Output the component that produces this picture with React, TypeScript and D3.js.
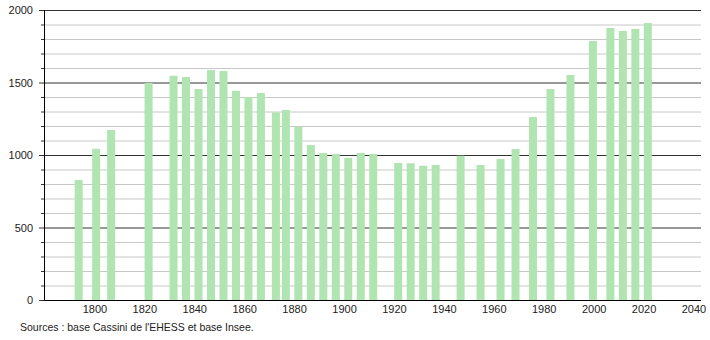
import React from "react";
import * as d3 from "d3";

const years = [1793, 1800, 1806, 1821, 1831, 1836, 1841, 1846, 1851, 1856, 1861, 1866, 1872, 1876, 1881, 1886, 1891, 1896, 1901, 1906, 1911, 1921, 1926, 1931, 1936, 1946, 1954, 1962, 1968, 1975, 1982, 1990, 1999, 2006, 2011, 2016, 2021];
const population = [828, 1043, 1172, 1497, 1547, 1538, 1455, 1586, 1579, 1443, 1400, 1428, 1294, 1310, 1195, 1069, 1014, 1007, 981, 1014, 1007, 945, 943, 926, 931, 995, 931, 972, 1041, 1262, 1455, 1552, 1786, 1876, 1855, 1869, 1910];
const xTicks = [1800, 1820, 1840, 1860, 1880, 1900, 1920, 1940, 1960, 1980, 2000, 2020, 2040];
const yMajor = [0, 500, 1000, 1500, 2000];
const yMinor = d3.range(0, 2001, 100).filter((v) => v % 500 !== 0);
const source = "Sources : base Cassini de l'EHESS et base Insee.";

const W = 710, H = 340;
const left = 44, right = 701, top = 10, bottom = 300;

export default function App() {
  const x = d3.scaleLinear().domain([1780, 2040]).range([45, 694]);
  const y = d3.scaleLinear().domain([0, 2000]).range([bottom, top]);
  const bw = 8;
  const font = "'Liberation Sans', Arial, sans-serif";
  return (
    <svg width={W} height={H} style={{ position: "absolute", left: 0, top: 0, background: "#fff" }}>
      {yMinor.map((v) => (
        <g key={"mi" + v}>
          <line x1={left} x2={right} y1={y(v) + 0.5} y2={y(v) + 0.5} stroke="#c8c8c8" strokeWidth={1} />
          <line x1={left - 3} x2={left} y1={y(v) + 0.5} y2={y(v) + 0.5} stroke="#333" strokeWidth={1} />
        </g>
      ))}
      {yMajor.map((v) => (
        <g key={"ma" + v}>
          <line x1={left - 5} x2={right} y1={y(v) + 0.5} y2={y(v) + 0.5} stroke="#333" strokeWidth={1} />
          <text x={33} y={y(v) + 4} textAnchor="end" fontSize={11} fontFamily={font} fill="#222">{v}</text>
        </g>
      ))}
      {years.map((yr, i) => (
        <rect key={yr} x={x(yr + 0.5) - bw / 2} y={y(population[i])} width={bw} height={y(0) - y(population[i])} fill="#b0e4b0" />
      ))}
      <line x1={left + 0.5} x2={left + 0.5} y1={top} y2={bottom + 1} stroke="#000" strokeWidth={1} />
      <line x1={left} x2={right} y1={bottom + 0.5} y2={bottom + 0.5} stroke="#000" strokeWidth={1} />
      {xTicks.map((t) => (
        <text key={t} x={x(t)} y={313} textAnchor="middle" fontSize={11} fontFamily={font} fill="#222">{t}</text>
      ))}
      <text x={20} y={331} fontSize={10.5} fontFamily={font} fill="#222">{source}</text>
    </svg>
  );
}
